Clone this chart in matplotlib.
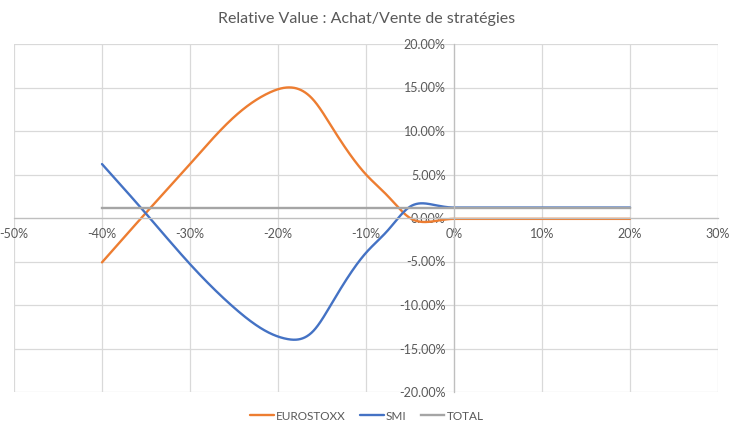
import numpy as np
import matplotlib
matplotlib.use("Agg")
import matplotlib.pyplot as plt
from matplotlib.ticker import FuncFormatter

# ---- data (x in %, values in %) ----
x_pts = [-40, -35, -30, -25, -21, -19, -16, -14, -10, -7.5, -5, -2.5, 0, 10, 20]
eurostoxx = [-5.1, 0.6, 6.2, 11.6, 14.4, 15.0, 13.6, 10.65, 5.0, 2.5, 0.0, -0.4, -0.1, -0.1, -0.1]
smi = [6.2, 0.5, -5.3, -10.3, -13.2, -13.9, -13.0, -10.0, -4.0, -1.4, 1.3, 1.55, 1.2, 1.2, 1.2]
total_x = [-40, 20]
total = [1.1, 1.1]

series_names = ["EUROSTOXX", "SMI", "TOTAL"]
colors = ["#ED7D31", "#4472C4", "#A5A5A5"]

x_ticks = [-50, -40, -30, -20, -10, 0, 10, 20, 30]
y_ticks = [-20, -15, -10, -5, 0, 5, 10, 15, 20]


def spline_curve(xs, ys, n=60):
    """Smooth rendering: cubic spline (natural start, zero-slope end) up to the
    first point of the flat tail, straight segments afterwards."""
    xs = np.asarray(xs, float)
    ys = np.asarray(ys, float)
    k = len(xs) - 1
    while k > 0 and abs(ys[k - 1] - ys[k]) < 1e-12:
        k -= 1
    X, Y = xs[:k + 1], ys[:k + 1]
    N = len(X)
    h = np.diff(X)
    A = np.zeros((N, N))
    b = np.zeros(N)
    A[0, 0] = 1.0
    for i in range(1, N - 1):
        A[i, i - 1] = h[i - 1]
        A[i, i] = 2 * (h[i - 1] + h[i])
        A[i, i + 1] = h[i]
        b[i] = 6 * ((Y[i + 1] - Y[i]) / h[i] - (Y[i] - Y[i - 1]) / h[i - 1])
    A[N - 1, N - 2] = h[-1]
    A[N - 1, N - 1] = 2 * h[-1]
    b[N - 1] = 6 * (0 - (Y[-1] - Y[-2]) / h[-1])
    M = np.linalg.solve(A, b)
    ox, oy = [], []
    for i in range(N - 1):
        t = np.linspace(X[i], X[i + 1], n, endpoint=False)
        a = X[i + 1] - t
        c = t - X[i]
        s = (M[i] * a**3 / (6 * h[i]) + M[i + 1] * c**3 / (6 * h[i])
             + (Y[i] / h[i] - M[i] * h[i] / 6) * a
             + (Y[i + 1] / h[i] - M[i + 1] * h[i] / 6) * c)
        ox.extend(t)
        oy.extend(s)
    ox.extend(xs[k:])
    oy.extend(ys[k:])
    return np.array(ox), np.array(oy)


plt.rcParams['font.family'] = ['Lato', 'DejaVu Sans']
text_color = "#595959"

fig = plt.figure(figsize=(7.34, 4.30), dpi=100)
W, H = 734, 430
ax = fig.add_axes([14 / W, 1 - 392 / H, (718 - 14) / W, (392 - 44) / H])

ax.set_xlim(-50, 30)
ax.set_ylim(-20, 20)
ax.set_xticks(x_ticks)
ax.set_yticks(y_ticks)
ax.grid(True, color="#D9D9D9", linewidth=0.9)
ax.set_axisbelow(True)

for s in ["top", "right"]:
    ax.spines[s].set_visible(False)
ax.spines["left"].set_position(("data", 0))
ax.spines["bottom"].set_position(("data", 0))
for s in ["left", "bottom"]:
    ax.spines[s].set_color("#BFBFBF")
    ax.spines[s].set_linewidth(0.9)

ax.xaxis.set_major_formatter(FuncFormatter(lambda v, p: f"{v:.0f}%"))
ax.yaxis.set_major_formatter(FuncFormatter(lambda v, p: f"{v:.2f}%"))
ax.tick_params(axis="both", length=0, labelsize=9, labelcolor=text_color)
ax.tick_params(axis="x", pad=7)
ax.tick_params(axis="y", pad=6)

lw = 1.7
sx, sy = spline_curve(x_pts, eurostoxx)
ax.plot(sx, sy, color=colors[0], lw=lw, label=series_names[0], solid_capstyle="round")
sx, sy = spline_curve(x_pts, smi)
ax.plot(sx, sy, color=colors[1], lw=lw, label=series_names[1], solid_capstyle="round")
ax.plot(total_x, total, color=colors[2], lw=lw, label=series_names[2])

fig.text(0.5, 1 - 19 / H, "Relative Value : Achat/Vente de stratégies",
         ha="center", va="center", fontsize=11.5, color=text_color)

leg = fig.legend(loc="center", bbox_to_anchor=(0.5, 1 - 416 / H), ncol=3,
                 frameon=False, fontsize=8.5, handlelength=2.0, columnspacing=1.2,
                 handletextpad=0.2)
for t in leg.get_texts():
    t.set_color(text_color)

fig.savefig("out.png", dpi=100)
